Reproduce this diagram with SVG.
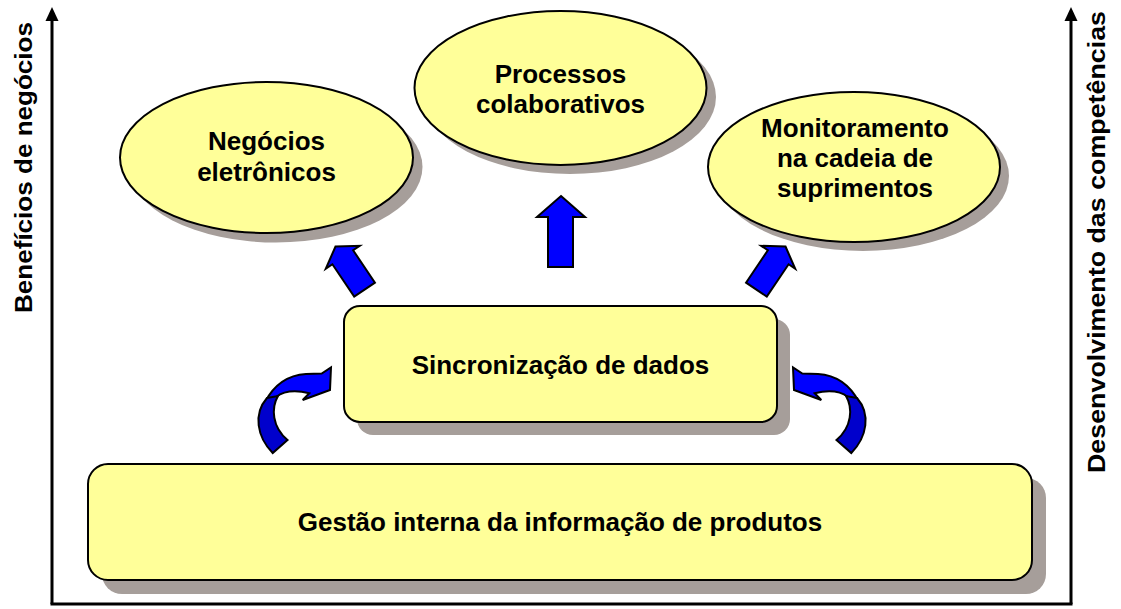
<svg xmlns="http://www.w3.org/2000/svg" width="1121" height="609" viewBox="0 0 1121 609">
<style>
.shadow{fill:#A69E9A;stroke:none}
.node{fill:#FFFF99;stroke:#000;stroke-width:2}
.lbl{font-family:"Liberation Sans",Arial,sans-serif;font-weight:bold;font-size:26px;fill:#000;text-anchor:middle}
.axis{stroke:#000;stroke-width:3;fill:none}
.head{fill:#000}
.blk{fill:#0000FF;stroke:#000;stroke-width:2;stroke-linejoin:miter}
.dark{fill:#0000CC;stroke:#000;stroke-width:2}
.ax{font-family:"Liberation Sans",Arial,sans-serif;font-weight:bold;font-size:24px;fill:#000;text-anchor:middle}
</style>
<rect width="1121" height="609" fill="#fff"/>
<g id="axes">
  <line class="axis" x1="52" y1="604" x2="52" y2="18"/>
  <polygon class="head" points="52,7 45.5,21 58.5,21"/>
  <line class="axis" x1="1071" y1="604" x2="1071" y2="18"/>
  <polygon class="head" points="1071,7 1064.5,21 1077.5,21"/>
  <line class="axis" x1="50.5" y1="604" x2="1072.5" y2="604"/>
  <text class="ax" transform="translate(32,167.5) rotate(-90)" textLength="291" lengthAdjust="spacingAndGlyphs">Benefícios de negócios</text>
  <text class="ax" transform="translate(1105,242) rotate(-90)" textLength="462" lengthAdjust="spacingAndGlyphs">Desenvolvimento das competências</text>
</g>
<g id="node-negocios">
  <ellipse class="shadow" cx="276" cy="167" rx="146.5" ry="75.5"/>
  <ellipse class="node" cx="266.5" cy="157.5" rx="146.5" ry="75.5"/>
  <text class="lbl" x="266.5" y="150">Negócios</text>
  <text class="lbl" x="266.5" y="181">eletrônicos</text>
</g>
<g id="node-processos">
  <ellipse class="shadow" cx="570" cy="97" rx="146" ry="77"/>
  <ellipse class="node" cx="560.5" cy="88" rx="146" ry="77"/>
  <text class="lbl" x="560.5" y="83">Processos</text>
  <text class="lbl" x="560.5" y="113">colaborativos</text>
</g>
<g id="node-monitoramento">
  <ellipse class="shadow" cx="863" cy="176" rx="146" ry="75"/>
  <ellipse class="node" cx="854" cy="167" rx="146" ry="75"/>
  <text class="lbl" x="855" y="137">Monitoramento</text>
  <text class="lbl" x="855" y="167">na cadeia de</text>
  <text class="lbl" x="855" y="197">suprimentos</text>
</g>
<g id="node-sincronizacao">
  <rect class="shadow" x="357" y="319" width="433" height="116" rx="16"/>
  <rect class="node" x="344" y="306" width="433" height="116" rx="16"/>
  <text class="lbl" x="560.5" y="374">Sincronização de dados</text>
</g>
<g id="node-gestao">
  <rect class="shadow" x="102" y="478" width="944" height="116" rx="20"/>
  <rect class="node" x="88" y="464" width="944" height="116" rx="20"/>
  <text class="lbl" x="560" y="531">Gestão interna da informação de produtos</text>
</g>
<g id="connectors">
  <polygon class="blk" points="561,196 585,217 573,217 573,267 548,267 548,217 537,217"/>
  <polygon class="blk" transform="translate(335.5,246.5) rotate(-34)" points="0,0 20.5,13 12.5,13 12.5,52 -12.5,52 -12.5,13 -20.5,13"/>
  <polygon class="blk" transform="translate(785.5,246.5) rotate(34)" points="0,0 20.5,13 12.5,13 12.5,52 -12.5,52 -12.5,13 -20.5,13"/>
  <g id="curve-left">
    <path class="blk" d="M 265,402 C 275,383 290,375 306,374 L 321.7,373.5 L 331,367.5 L 330,390 L 302.7,400 L 309.3,393.3 C 296,390 284,391 276,397 Z"/>
    <path class="dark" d="M 272.7,453 C 257,437 253,414 267,398 L 278,396 C 271,408 272,427 287.5,440 Z"/>
  </g>
  <g id="curve-right" transform="translate(1124,0) scale(-1,1)">
    <path class="blk" d="M 265,402 C 275,383 290,375 306,374 L 321.7,373.5 L 331,367.5 L 330,390 L 302.7,400 L 309.3,393.3 C 296,390 284,391 276,397 Z"/>
    <path class="dark" d="M 272.7,453 C 257,437 253,414 267,398 L 278,396 C 271,408 272,427 287.5,440 Z"/>
  </g>
</g>
</svg>
